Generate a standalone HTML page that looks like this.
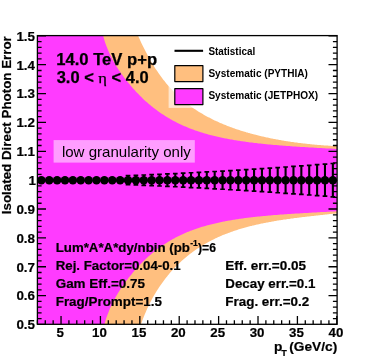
<!DOCTYPE html>
<html><head><meta charset="utf-8"><title>chart</title>
<style>html,body{margin:0;padding:0;background:#fff;}body{width:374px;height:361px;overflow:hidden;font-family:"Liberation Sans",sans-serif;}#w{will-change:transform;width:374px;height:361px;}</style></head>
<body>
<div id="w">
<svg width="374" height="361" viewBox="0 0 374 361" style="display:block" font-family="Liberation Sans, sans-serif">
<rect width="374" height="361" fill="#fff"/>
<defs><clipPath id="fr"><rect x="37.4" y="35.6" width="299.70" height="288.70"/></clipPath></defs>
<g clip-path="url(#fr)">
<path d="M32.4,384.4 L32.4,-24.1 L123.0,-24.1 L123.0,-1.8 L125.1,4.1 L127.3,9.8 L129.4,15.3 L131.6,20.6 L133.7,25.8 L135.9,30.8 L138.0,35.6 L138.9,37.6 L139.8,39.6 L140.7,41.6 L141.6,43.5 L142.6,45.4 L143.5,47.2 L144.4,49.1 L145.3,50.8 L146.2,52.6 L147.1,54.3 L148.0,56.0 L148.9,57.7 L149.9,59.3 L150.8,60.9 L151.7,62.4 L152.6,64.0 L153.5,65.5 L154.4,66.9 L155.3,68.4 L156.2,69.8 L157.2,71.1 L158.1,72.5 L159.0,73.8 L159.9,75.1 L160.8,76.3 L161.7,77.6 L162.6,78.8 L163.5,80.0 L164.5,81.1 L165.4,82.3 L166.3,83.4 L167.2,84.5 L168.1,85.5 L169.0,86.6 L169.9,87.6 L170.8,88.6 L171.8,89.6 L172.7,90.6 L173.6,91.5 L174.5,92.4 L175.4,93.4 L176.3,94.2 L177.2,95.1 L178.1,96.0 L179.1,96.8 L180.0,97.6 L180.9,98.5 L181.8,99.2 L182.7,100.0 L183.6,100.8 L184.5,101.5 L185.4,102.3 L186.4,103.0 L187.3,103.7 L188.2,104.4 L189.1,105.1 L190.0,105.8 L190.9,106.4 L191.8,107.1 L192.7,107.7 L193.7,108.4 L194.6,109.0 L195.5,109.6 L196.4,110.2 L197.3,110.8 L198.2,111.4 L199.1,111.9 L200.0,112.5 L201.0,113.0 L201.9,113.6 L202.8,114.1 L203.7,114.7 L204.6,115.2 L205.5,115.7 L206.4,116.2 L207.3,116.7 L208.2,117.2 L209.2,117.6 L210.1,118.1 L211.0,118.6 L211.9,119.0 L212.8,119.5 L213.7,119.9 L214.6,120.4 L215.5,120.8 L216.5,121.2 L217.4,121.6 L218.3,122.1 L219.2,122.5 L220.1,122.9 L221.0,123.3 L221.9,123.6 L222.8,124.0 L223.8,124.4 L224.7,124.8 L225.6,125.1 L226.5,125.5 L227.4,125.9 L228.3,126.2 L229.2,126.6 L230.1,126.9 L231.1,127.3 L232.0,127.6 L232.9,127.9 L233.8,128.2 L234.7,128.6 L235.6,128.9 L236.5,129.2 L237.4,129.5 L238.4,129.8 L239.3,130.1 L240.2,130.4 L241.1,130.7 L242.0,131.0 L242.9,131.3 L243.8,131.5 L244.7,131.8 L245.7,132.1 L246.6,132.4 L247.5,132.6 L248.4,132.9 L249.3,133.1 L250.2,133.4 L251.1,133.6 L252.0,133.9 L253.0,134.1 L253.9,134.4 L254.8,134.6 L255.7,134.8 L256.6,135.1 L257.5,135.3 L258.4,135.5 L259.3,135.8 L260.3,136.0 L261.2,136.2 L262.1,136.4 L263.0,136.6 L263.9,136.8 L264.8,137.0 L265.7,137.2 L266.6,137.4 L267.6,137.6 L268.5,137.8 L269.4,138.0 L270.3,138.2 L271.2,138.4 L272.1,138.6 L273.0,138.8 L273.9,138.9 L274.8,139.1 L275.8,139.3 L276.7,139.4 L277.6,139.6 L278.5,139.8 L279.4,139.9 L280.3,140.1 L281.2,140.3 L282.1,140.4 L283.1,140.6 L284.0,140.7 L284.9,140.9 L285.8,141.0 L286.7,141.2 L287.6,141.3 L288.5,141.5 L289.4,141.6 L290.4,141.7 L291.3,141.9 L292.2,142.0 L293.1,142.1 L294.0,142.3 L294.9,142.4 L295.8,142.5 L296.7,142.6 L297.7,142.7 L298.6,142.9 L299.5,143.0 L300.4,143.1 L301.3,143.2 L302.2,143.3 L303.1,143.4 L304.0,143.5 L305.0,143.6 L305.9,143.7 L306.8,143.8 L307.7,143.9 L308.6,144.0 L309.5,144.1 L310.4,144.2 L311.3,144.3 L312.3,144.4 L313.2,144.5 L314.1,144.6 L315.0,144.7 L315.9,144.7 L316.8,144.8 L317.7,144.9 L318.6,145.0 L319.6,145.0 L320.5,145.1 L321.4,145.2 L322.3,145.3 L323.2,145.3 L324.1,145.4 L325.0,145.5 L325.9,145.5 L326.9,145.6 L327.8,145.6 L328.7,145.7 L329.6,145.8 L330.5,145.8 L331.4,145.9 L332.3,145.9 L333.2,146.0 L334.2,146.0 L335.1,146.1 L336.0,146.1 L336.9,146.1 L337.8,146.2 L337.8,213.3 L336.9,213.4 L336.0,213.5 L335.1,213.6 L334.2,213.7 L333.3,213.7 L332.4,213.8 L331.5,213.9 L330.6,214.0 L329.7,214.1 L328.8,214.2 L327.9,214.3 L327.0,214.4 L326.1,214.5 L325.2,214.6 L324.3,214.7 L323.4,214.8 L322.5,214.9 L321.6,215.0 L320.7,215.1 L319.8,215.2 L318.9,215.3 L318.0,215.4 L317.1,215.5 L316.2,215.6 L315.3,215.7 L314.4,215.8 L313.5,215.9 L312.7,216.0 L311.8,216.1 L310.9,216.2 L310.0,216.3 L309.1,216.4 L308.2,216.5 L307.3,216.6 L306.4,216.7 L305.5,216.8 L304.6,216.9 L303.7,217.0 L302.8,217.1 L301.9,217.2 L301.0,217.3 L300.1,217.4 L299.2,217.5 L298.3,217.7 L297.4,217.8 L296.5,217.9 L295.6,218.0 L294.7,218.1 L293.8,218.2 L292.9,218.4 L292.0,218.5 L291.1,218.6 L290.2,218.7 L289.3,218.9 L288.4,219.0 L287.5,219.1 L286.6,219.2 L285.7,219.4 L284.8,219.5 L283.9,219.6 L283.0,219.8 L282.1,219.9 L281.2,220.0 L280.3,220.2 L279.4,220.3 L278.5,220.5 L277.6,220.6 L276.7,220.8 L275.8,220.9 L274.9,221.1 L274.0,221.2 L273.1,221.4 L272.2,221.5 L271.3,221.7 L270.4,221.9 L269.5,222.0 L268.6,222.2 L267.7,222.4 L266.8,222.5 L265.9,222.7 L265.0,222.9 L264.1,223.1 L263.3,223.2 L262.4,223.4 L261.5,223.6 L260.6,223.8 L259.7,224.0 L258.8,224.2 L257.9,224.4 L257.0,224.6 L256.1,224.8 L255.2,225.0 L254.3,225.2 L253.4,225.4 L252.5,225.6 L251.6,225.9 L250.7,226.1 L249.8,226.3 L248.9,226.5 L248.0,226.8 L247.1,227.0 L246.2,227.3 L245.3,227.5 L244.4,227.8 L243.5,228.0 L242.6,228.3 L241.7,228.5 L240.8,228.8 L239.9,229.1 L239.0,229.3 L238.1,229.6 L237.2,229.9 L236.3,230.2 L235.4,230.5 L234.5,230.8 L233.6,231.1 L232.7,231.4 L231.8,231.7 L230.9,232.0 L230.0,232.4 L229.1,232.7 L228.2,233.0 L227.3,233.4 L226.4,233.7 L225.5,234.1 L224.6,234.4 L223.7,234.8 L222.8,235.1 L221.9,235.5 L221.0,235.9 L220.1,236.3 L219.2,236.7 L218.3,237.1 L217.4,237.5 L216.5,237.9 L215.6,238.3 L214.8,238.8 L213.9,239.2 L213.0,239.7 L212.1,240.1 L211.2,240.6 L210.3,241.0 L209.4,241.5 L208.5,242.0 L207.6,242.5 L206.7,243.0 L205.8,243.5 L204.9,244.0 L204.0,244.5 L203.1,245.1 L202.2,245.6 L201.3,246.2 L200.4,246.7 L199.5,247.3 L198.6,247.9 L197.7,248.5 L196.8,249.1 L195.9,249.7 L195.0,250.3 L194.1,251.0 L193.2,251.6 L192.3,252.3 L191.4,253.0 L190.5,253.6 L189.6,254.3 L188.7,255.0 L187.8,255.8 L186.9,256.5 L186.0,257.2 L185.1,258.0 L184.2,258.8 L183.3,259.5 L182.4,260.3 L181.5,261.1 L180.6,262.0 L179.7,262.8 L178.8,263.7 L177.9,264.5 L177.0,265.4 L176.1,266.3 L175.2,267.2 L174.3,268.2 L173.4,269.1 L172.5,270.1 L171.6,271.1 L170.7,272.1 L169.8,273.1 L168.9,274.2 L168.0,275.3 L167.1,276.4 L166.2,277.5 L165.4,278.6 L164.5,279.8 L163.6,281.0 L162.7,282.2 L161.8,283.4 L160.9,284.7 L160.0,286.0 L159.1,287.3 L158.2,288.7 L157.3,290.1 L156.4,291.5 L155.5,293.0 L154.6,294.5 L153.7,296.0 L152.8,297.6 L151.9,299.3 L151.0,301.0 L150.1,302.7 L149.2,304.5 L148.3,306.4 L147.4,308.3 L146.5,310.3 L145.6,312.4 L144.7,314.6 L143.8,316.8 L142.9,319.1 L142.0,321.6 L141.1,324.1 L139.0,330.5 L136.8,337.2 L134.7,344.1 L132.5,351.4 L130.4,359.0 L128.2,366.9 L126.1,375.1 L126.1,384.4Z" fill="#ffbf7f"/>
<path d="M32.4,384.4 L32.4,-24.1 L88.0,-24.1 L88.0,-28.7 L90.1,-18.0 L92.3,-7.9 L94.4,1.7 L96.6,10.9 L98.7,19.5 L100.9,27.7 L103.0,35.5 L104.1,39.2 L105.1,42.5 L106.2,45.5 L107.3,48.3 L108.4,50.9 L109.4,53.3 L110.5,55.6 L111.6,57.7 L112.6,59.8 L113.7,61.7 L114.8,63.6 L115.9,65.4 L116.9,67.1 L118.0,68.8 L119.1,70.4 L120.2,72.0 L121.2,73.5 L122.3,75.0 L123.4,76.5 L124.4,77.9 L125.5,79.3 L126.6,80.7 L127.7,82.0 L128.7,83.3 L129.8,84.6 L130.9,85.9 L131.9,87.1 L133.0,88.4 L134.1,89.6 L135.2,90.7 L136.2,91.9 L137.3,93.0 L138.4,94.1 L139.5,95.2 L140.5,96.3 L141.6,97.3 L142.7,98.4 L143.7,99.4 L144.8,100.4 L145.9,101.4 L147.0,102.3 L148.0,103.2 L149.1,104.2 L150.2,105.1 L151.2,106.0 L152.3,106.8 L153.4,107.7 L154.5,108.5 L155.5,109.3 L156.6,110.1 L157.7,110.9 L158.8,111.7 L159.8,112.5 L160.9,113.2 L162.0,113.9 L163.0,114.6 L164.1,115.3 L165.2,116.0 L166.3,116.7 L167.3,117.3 L168.4,118.0 L169.5,118.6 L170.5,119.2 L171.6,119.8 L172.7,120.4 L173.8,121.0 L174.8,121.6 L175.9,122.1 L177.0,122.7 L178.1,123.2 L179.1,123.7 L180.2,124.2 L181.3,124.7 L182.3,125.2 L183.4,125.7 L184.5,126.2 L185.6,126.6 L186.6,127.1 L187.7,127.5 L188.8,128.0 L189.8,128.4 L190.9,128.8 L192.0,129.2 L193.1,129.6 L194.1,130.0 L195.2,130.4 L196.3,130.8 L197.3,131.1 L198.4,131.5 L199.5,131.8 L200.6,132.2 L201.6,132.5 L202.7,132.8 L203.8,133.2 L204.9,133.5 L205.9,133.8 L207.0,134.1 L208.1,134.4 L209.1,134.7 L210.2,135.0 L211.3,135.2 L212.4,135.5 L213.4,135.8 L214.5,136.0 L215.6,136.3 L216.6,136.6 L217.7,136.8 L218.8,137.0 L219.9,137.3 L220.9,137.5 L222.0,137.7 L223.1,138.0 L224.2,138.2 L225.2,138.4 L226.3,138.6 L227.4,138.8 L228.4,139.0 L229.5,139.2 L230.6,139.4 L231.7,139.6 L232.7,139.8 L233.8,140.0 L234.9,140.2 L235.9,140.3 L237.0,140.5 L238.1,140.7 L239.2,140.8 L240.2,141.0 L241.3,141.2 L242.4,141.3 L243.5,141.5 L244.5,141.6 L245.6,141.8 L246.7,141.9 L247.7,142.1 L248.8,142.2 L249.9,142.4 L251.0,142.5 L252.0,142.6 L253.1,142.8 L254.2,142.9 L255.2,143.0 L256.3,143.1 L257.4,143.3 L258.5,143.4 L259.5,143.5 L260.6,143.6 L261.7,143.7 L262.7,143.8 L263.8,143.9 L264.9,144.1 L266.0,144.2 L267.0,144.3 L268.1,144.4 L269.2,144.5 L270.3,144.6 L271.3,144.7 L272.4,144.8 L273.5,144.9 L274.5,145.0 L275.6,145.0 L276.7,145.1 L277.8,145.2 L278.8,145.3 L279.9,145.4 L281.0,145.5 L282.0,145.6 L283.1,145.7 L284.2,145.7 L285.3,145.8 L286.3,145.9 L287.4,146.0 L288.5,146.1 L289.6,146.1 L290.6,146.2 L291.7,146.3 L292.8,146.4 L293.8,146.4 L294.9,146.5 L296.0,146.6 L297.1,146.7 L298.1,146.7 L299.2,146.8 L300.3,146.9 L301.3,146.9 L302.4,147.0 L303.5,147.1 L304.6,147.1 L305.6,147.2 L306.7,147.3 L307.8,147.3 L308.9,147.4 L309.9,147.5 L311.0,147.5 L312.1,147.6 L313.1,147.6 L314.2,147.7 L315.3,147.8 L316.4,147.8 L317.4,147.9 L318.5,147.9 L319.6,148.0 L320.6,148.1 L321.7,148.1 L322.8,148.2 L323.9,148.2 L324.9,148.3 L326.0,148.4 L327.1,148.4 L328.2,148.5 L329.2,148.5 L330.3,148.6 L331.4,148.6 L332.4,148.7 L333.5,148.8 L334.6,148.8 L335.7,148.9 L336.7,148.9 L337.8,149.0 L337.8,211.2 L336.7,211.3 L335.7,211.3 L334.6,211.4 L333.5,211.4 L332.5,211.5 L331.4,211.6 L330.3,211.6 L329.3,211.7 L328.2,211.7 L327.1,211.8 L326.1,211.9 L325.0,211.9 L323.9,212.0 L322.9,212.0 L321.8,212.1 L320.7,212.1 L319.7,212.2 L318.6,212.3 L317.5,212.3 L316.5,212.4 L315.4,212.4 L314.3,212.5 L313.3,212.6 L312.2,212.6 L311.1,212.7 L310.1,212.7 L309.0,212.8 L307.9,212.9 L306.9,212.9 L305.8,213.0 L304.7,213.0 L303.7,213.1 L302.6,213.2 L301.5,213.2 L300.5,213.3 L299.4,213.4 L298.3,213.4 L297.2,213.5 L296.2,213.5 L295.1,213.6 L294.0,213.7 L293.0,213.8 L291.9,213.8 L290.8,213.9 L289.8,214.0 L288.7,214.0 L287.6,214.1 L286.6,214.2 L285.5,214.2 L284.4,214.3 L283.4,214.4 L282.3,214.5 L281.2,214.6 L280.2,214.6 L279.1,214.7 L278.0,214.8 L277.0,214.9 L275.9,215.0 L274.8,215.0 L273.8,215.1 L272.7,215.2 L271.6,215.3 L270.6,215.4 L269.5,215.5 L268.4,215.6 L267.4,215.7 L266.3,215.8 L265.2,215.9 L264.2,216.0 L263.1,216.1 L262.0,216.2 L261.0,216.3 L259.9,216.4 L258.8,216.5 L257.8,216.6 L256.7,216.7 L255.6,216.8 L254.6,216.9 L253.5,217.1 L252.4,217.2 L251.4,217.3 L250.3,217.4 L249.2,217.6 L248.2,217.7 L247.1,217.8 L246.0,218.0 L245.0,218.1 L243.9,218.2 L242.8,218.4 L241.8,218.5 L240.7,218.7 L239.6,218.8 L238.6,219.0 L237.5,219.2 L236.4,219.3 L235.4,219.5 L234.3,219.7 L233.2,219.8 L232.2,220.0 L231.1,220.2 L230.0,220.4 L229.0,220.6 L227.9,220.8 L226.8,220.9 L225.8,221.1 L224.7,221.4 L223.6,221.6 L222.6,221.8 L221.5,222.0 L220.4,222.2 L219.3,222.4 L218.3,222.7 L217.2,222.9 L216.1,223.2 L215.1,223.4 L214.0,223.7 L212.9,223.9 L211.9,224.2 L210.8,224.4 L209.7,224.7 L208.7,225.0 L207.6,225.3 L206.5,225.6 L205.5,225.9 L204.4,226.2 L203.3,226.5 L202.3,226.8 L201.2,227.1 L200.1,227.5 L199.1,227.8 L198.0,228.2 L196.9,228.5 L195.9,228.9 L194.8,229.3 L193.7,229.7 L192.7,230.0 L191.6,230.4 L190.5,230.8 L189.5,231.3 L188.4,231.7 L187.3,232.1 L186.3,232.6 L185.2,233.0 L184.1,233.5 L183.1,234.0 L182.0,234.5 L180.9,234.9 L179.9,235.5 L178.8,236.0 L177.7,236.5 L176.7,237.0 L175.6,237.6 L174.5,238.2 L173.5,238.7 L172.4,239.3 L171.3,239.9 L170.3,240.6 L169.2,241.2 L168.1,241.8 L167.1,242.5 L166.0,243.2 L164.9,243.9 L163.9,244.6 L162.8,245.3 L161.7,246.0 L160.7,246.8 L159.6,247.5 L158.5,248.3 L157.5,249.1 L156.4,249.9 L155.3,250.7 L154.3,251.6 L153.2,252.5 L152.1,253.3 L151.1,254.2 L150.0,255.2 L148.9,256.1 L147.9,257.1 L146.8,258.0 L145.7,259.0 L144.7,260.1 L143.6,261.1 L142.5,262.1 L141.4,263.2 L140.4,264.3 L139.3,265.4 L138.2,266.6 L137.2,267.7 L136.1,268.9 L135.0,270.1 L134.0,271.3 L132.9,272.6 L131.8,273.9 L130.8,275.2 L129.7,276.5 L128.6,277.8 L127.6,279.2 L126.5,280.6 L125.4,282.1 L124.4,283.5 L123.3,285.0 L122.2,286.6 L121.2,288.1 L120.1,289.8 L119.0,291.4 L118.0,293.1 L116.9,294.9 L115.8,296.8 L114.8,298.7 L113.7,300.7 L112.6,302.7 L111.6,304.9 L110.5,307.3 L109.4,309.7 L108.4,312.4 L107.3,315.2 L106.2,318.2 L105.2,321.6 L104.1,325.2 L102.0,333.2 L99.8,341.5 L97.7,350.3 L95.5,359.6 L93.4,369.4 L91.2,379.7 L89.1,390.6 L89.1,384.4Z" fill="#ff3bff"/>
</g>
<rect x="37.4" y="35.6" width="299.70" height="288.70" fill="none" stroke="#000" stroke-width="1.3"/>
<path d="M37.4,324.45h8.6M337.1,324.45h-8.6M37.4,318.68h4.2M337.1,318.68h-4.2M37.4,312.91h4.2M337.1,312.91h-4.2M37.4,307.13h4.2M337.1,307.13h-4.2M37.4,301.36h4.2M337.1,301.36h-4.2M37.4,295.59h8.6M337.1,295.59h-8.6M37.4,289.82h4.2M337.1,289.82h-4.2M37.4,284.05h4.2M337.1,284.05h-4.2M37.4,278.27h4.2M337.1,278.27h-4.2M37.4,272.50h4.2M337.1,272.50h-4.2M37.4,266.73h8.6M337.1,266.73h-8.6M37.4,260.96h4.2M337.1,260.96h-4.2M37.4,255.19h4.2M337.1,255.19h-4.2M37.4,249.41h4.2M337.1,249.41h-4.2M37.4,243.64h4.2M337.1,243.64h-4.2M37.4,237.87h8.6M337.1,237.87h-8.6M37.4,232.10h4.2M337.1,232.10h-4.2M37.4,226.33h4.2M337.1,226.33h-4.2M37.4,220.55h4.2M337.1,220.55h-4.2M37.4,214.78h4.2M337.1,214.78h-4.2M37.4,209.01h8.6M337.1,209.01h-8.6M37.4,203.24h4.2M337.1,203.24h-4.2M37.4,197.47h4.2M337.1,197.47h-4.2M37.4,191.69h4.2M337.1,191.69h-4.2M37.4,185.92h4.2M337.1,185.92h-4.2M37.4,180.15h8.6M337.1,180.15h-8.6M37.4,174.38h4.2M337.1,174.38h-4.2M37.4,168.61h4.2M337.1,168.61h-4.2M37.4,162.83h4.2M337.1,162.83h-4.2M37.4,157.06h4.2M337.1,157.06h-4.2M37.4,151.29h8.6M337.1,151.29h-8.6M37.4,145.52h4.2M337.1,145.52h-4.2M37.4,139.75h4.2M337.1,139.75h-4.2M37.4,133.97h4.2M337.1,133.97h-4.2M37.4,128.20h4.2M337.1,128.20h-4.2M37.4,122.43h8.6M337.1,122.43h-8.6M37.4,116.66h4.2M337.1,116.66h-4.2M37.4,110.89h4.2M337.1,110.89h-4.2M37.4,105.11h4.2M337.1,105.11h-4.2M37.4,99.34h4.2M337.1,99.34h-4.2M37.4,93.57h8.6M337.1,93.57h-8.6M37.4,87.80h4.2M337.1,87.80h-4.2M37.4,82.03h4.2M337.1,82.03h-4.2M37.4,76.25h4.2M337.1,76.25h-4.2M37.4,70.48h4.2M337.1,70.48h-4.2M37.4,64.71h8.6M337.1,64.71h-8.6M37.4,58.94h4.2M337.1,58.94h-4.2M37.4,53.17h4.2M337.1,53.17h-4.2M37.4,47.39h4.2M337.1,47.39h-4.2M37.4,41.62h4.2M337.1,41.62h-4.2M37.4,35.85h8.6M337.1,35.85h-8.6M37.40,324.3v-4.0M45.28,324.3v-4.0M53.16,324.3v-4.0M61.04,324.3v-8.2M68.92,324.3v-4.0M76.79,324.3v-4.0M84.67,324.3v-4.0M92.55,324.3v-4.0M100.43,324.3v-8.2M108.31,324.3v-4.0M116.19,324.3v-4.0M124.07,324.3v-4.0M131.95,324.3v-4.0M139.83,324.3v-8.2M147.71,324.3v-4.0M155.58,324.3v-4.0M163.46,324.3v-4.0M171.34,324.3v-4.0M179.22,324.3v-8.2M187.10,324.3v-4.0M194.98,324.3v-4.0M202.86,324.3v-4.0M210.74,324.3v-4.0M218.62,324.3v-8.2M226.49,324.3v-4.0M234.37,324.3v-4.0M242.25,324.3v-4.0M250.13,324.3v-4.0M258.01,324.3v-8.2M265.89,324.3v-4.0M273.77,324.3v-4.0M281.65,324.3v-4.0M289.53,324.3v-4.0M297.41,324.3v-8.2M305.28,324.3v-4.0M313.16,324.3v-4.0M321.04,324.3v-4.0M328.92,324.3v-4.0M336.80,324.3v-8.2" stroke="#000" stroke-width="1.3" fill="none"/>
<g font-weight="bold" font-size="13.4" text-anchor="end" stroke="#000" stroke-width="0.2">
<text x="35" y="329.2">0.5</text>
<text x="35" y="300.4">0.6</text>
<text x="35" y="271.5">0.7</text>
<text x="35" y="242.7">0.8</text>
<text x="35" y="213.8">0.9</text>
<text x="35.9" y="184.9">1</text>
<text x="35" y="156.1">1.1</text>
<text x="35" y="127.2">1.2</text>
<text x="35" y="98.4">1.3</text>
<text x="35" y="69.5">1.4</text>
<text x="35" y="40.6">1.5</text>
</g>
<g font-weight="bold" font-size="13.3" text-anchor="middle" stroke="#000" stroke-width="0.2">
<text x="60.1" y="336.7">5</text>
<text x="99.5" y="336.7">10</text>
<text x="138.9" y="336.7">15</text>
<text x="178.3" y="336.7">20</text>
<text x="217.7" y="336.7">25</text>
<text x="257.1" y="336.7">30</text>
<text x="296.5" y="336.7">35</text>
<text x="335.9" y="336.7">40</text>
</g>
<text transform="translate(10.5,36.2) rotate(-90)" text-anchor="end" font-weight="bold" font-size="12.6" stroke="#000" stroke-width="0.2" textLength="178" lengthAdjust="spacingAndGlyphs">Isolated Direct Photon Error</text>
<g font-weight="bold" stroke="#000" stroke-width="0.2"><text x="273.9" y="350.6" font-size="13.7">p</text><text x="281.3" y="356.1" font-size="9.2">T</text><text x="289.3" y="350.6" font-size="13.7">(GeV/c)</text></g>
<circle cx="41.34" cy="180.15" r="4.25" fill="#000"/>
<circle cx="49.22" cy="180.15" r="4.25" fill="#000"/>
<circle cx="57.10" cy="180.15" r="4.25" fill="#000"/>
<circle cx="64.98" cy="180.15" r="4.25" fill="#000"/>
<circle cx="72.86" cy="180.15" r="4.25" fill="#000"/>
<circle cx="80.73" cy="180.15" r="4.25" fill="#000"/>
<circle cx="88.61" cy="180.15" r="4.25" fill="#000"/>
<circle cx="96.49" cy="180.15" r="4.25" fill="#000"/>
<circle cx="104.37" cy="180.15" r="4.25" fill="#000"/>
<circle cx="112.25" cy="180.15" r="4.25" fill="#000"/>
<circle cx="120.13" cy="180.15" r="4.25" fill="#000"/>
<circle cx="128.01" cy="180.15" r="4.25" fill="#000"/>
<circle cx="135.89" cy="180.15" r="4.25" fill="#000"/>
<circle cx="143.77" cy="180.15" r="4.25" fill="#000"/>
<circle cx="151.64" cy="180.15" r="4.25" fill="#000"/>
<circle cx="159.52" cy="180.15" r="4.25" fill="#000"/>
<circle cx="167.40" cy="180.15" r="4.25" fill="#000"/>
<circle cx="175.28" cy="180.15" r="4.25" fill="#000"/>
<circle cx="183.16" cy="180.15" r="4.25" fill="#000"/>
<circle cx="191.04" cy="180.15" r="4.25" fill="#000"/>
<circle cx="198.92" cy="180.15" r="4.25" fill="#000"/>
<circle cx="206.80" cy="180.15" r="4.25" fill="#000"/>
<circle cx="214.68" cy="180.15" r="4.25" fill="#000"/>
<circle cx="222.56" cy="180.15" r="4.25" fill="#000"/>
<circle cx="230.43" cy="180.15" r="4.25" fill="#000"/>
<circle cx="238.31" cy="180.15" r="4.25" fill="#000"/>
<circle cx="246.19" cy="180.15" r="4.25" fill="#000"/>
<circle cx="254.07" cy="180.15" r="4.25" fill="#000"/>
<circle cx="261.95" cy="180.15" r="4.25" fill="#000"/>
<circle cx="269.83" cy="180.15" r="4.25" fill="#000"/>
<circle cx="277.71" cy="180.15" r="4.25" fill="#000"/>
<circle cx="285.59" cy="180.15" r="4.25" fill="#000"/>
<circle cx="293.47" cy="180.15" r="4.25" fill="#000"/>
<circle cx="301.34" cy="180.15" r="4.25" fill="#000"/>
<circle cx="309.22" cy="180.15" r="4.25" fill="#000"/>
<circle cx="317.10" cy="180.15" r="4.25" fill="#000"/>
<circle cx="324.98" cy="180.15" r="4.25" fill="#000"/>
<circle cx="332.86" cy="180.15" r="4.25" fill="#000"/>
<path d="M128.01,175.67V184.63M135.89,175.35V184.95M143.77,175.02V185.28M151.64,174.67V185.63M159.52,174.31V185.99M167.40,173.94V186.36M175.28,173.56V186.74M183.16,173.17V187.13M191.04,172.77V187.53M198.92,172.35V187.95M206.80,171.92V188.38M214.68,171.48V188.82M222.56,171.03V189.27M230.43,170.57V189.73M238.31,170.10V190.20M246.19,169.61V190.69M254.07,169.12V191.18M261.95,168.61V191.69M269.83,168.09V192.21M277.71,167.56V192.74M285.59,167.01V193.29M293.47,166.46V193.84M301.34,165.89V194.41M309.22,165.31V194.99M317.10,164.72V195.58M324.98,164.12V196.18M332.86,163.51V196.79" stroke="#000" stroke-width="2.1" fill="none"/>
<path d="M125.66,175.67h4.7M125.66,184.63h4.7M133.54,175.35h4.7M133.54,184.95h4.7M141.42,175.02h4.7M141.42,185.28h4.7M149.29,174.67h4.7M149.29,185.63h4.7M157.17,174.31h4.7M157.17,185.99h4.7M165.05,173.94h4.7M165.05,186.36h4.7M172.93,173.56h4.7M172.93,186.74h4.7M180.81,173.17h4.7M180.81,187.13h4.7M188.69,172.77h4.7M188.69,187.53h4.7M196.57,172.35h4.7M196.57,187.95h4.7M204.45,171.92h4.7M204.45,188.38h4.7M212.33,171.48h4.7M212.33,188.82h4.7M220.21,171.03h4.7M220.21,189.27h4.7M228.08,170.57h4.7M228.08,189.73h4.7M235.96,170.10h4.7M235.96,190.20h4.7M243.84,169.61h4.7M243.84,190.69h4.7M251.72,169.12h4.7M251.72,191.18h4.7M259.60,168.61h4.7M259.60,191.69h4.7M267.48,168.09h4.7M267.48,192.21h4.7M275.36,167.56h4.7M275.36,192.74h4.7M283.24,167.01h4.7M283.24,193.29h4.7M291.12,166.46h4.7M291.12,193.84h4.7M298.99,165.89h4.7M298.99,194.41h4.7M306.87,165.31h4.7M306.87,194.99h4.7M314.75,164.72h4.7M314.75,195.58h4.7M322.63,164.12h4.7M322.63,196.18h4.7M330.51,163.51h4.7M330.51,196.79h4.7" stroke="#000" stroke-width="1.7" fill="none"/>
<rect x="168.6" y="37" width="153" height="70.9" fill="#fff" fill-opacity="0.6"/>
<path d="M174.5,50.8H203.1" stroke="#000" stroke-width="2.1"/>
<rect x="174.8" y="65.6" width="28.1" height="16" fill="#ffbf7f" stroke="#000" stroke-width="1.2" stroke-linejoin="round"/>
<rect x="174.8" y="88.7" width="28.1" height="15.9" fill="#ff3bff" stroke="#000" stroke-width="1.2" stroke-linejoin="round"/>
<g font-weight="bold" font-size="10">
<text x="208.4" y="54.5" textLength="46.8" lengthAdjust="spacingAndGlyphs">Statistical</text>
<text x="208.4" y="76.9" textLength="99.5" lengthAdjust="spacingAndGlyphs">Systematic (PYTHIA)</text>
<text x="208.4" y="99" textLength="109.7" lengthAdjust="spacingAndGlyphs">Systematic (JETPHOX)</text>
</g>
<g font-weight="bold" font-size="15.6" stroke="#000" stroke-width="0.25">
<text x="56.2" y="64.9" textLength="100.9" lengthAdjust="spacingAndGlyphs">14.0 TeV p+p</text>
<text x="56.7" y="82.6" textLength="92" lengthAdjust="spacingAndGlyphs">3.0 &lt; <tspan font-family="Liberation Serif, serif" font-weight="normal">η</tspan> &lt; 4.0</text>
</g>
<rect x="53.6" y="140.1" width="141.2" height="22.5" fill="#fff" fill-opacity="0.5"/>
<text x="61.9" y="157.3" font-size="15" textLength="129" lengthAdjust="spacingAndGlyphs">low granularity only</text>
<g font-weight="bold" stroke="#000" stroke-width="0.2">
<text x="55.7" y="251.8" font-size="12.4" textLength="134.2" lengthAdjust="spacingAndGlyphs">Lum*A*A*dy/nbin (pb</text>
<text x="190.2" y="246.2" font-size="8.8" textLength="7.6" lengthAdjust="spacingAndGlyphs">-1</text>
<text x="198.0" y="251.8" font-size="12.4" textLength="18.0" lengthAdjust="spacingAndGlyphs">)=6</text>
<text x="55.7" y="269.5" font-size="12.4" textLength="125.0" lengthAdjust="spacingAndGlyphs">Rej. Factor=0.04-0.1</text>
<text x="55.7" y="287.7" font-size="12.4" textLength="89.3" lengthAdjust="spacingAndGlyphs">Gam Eff.=0.75</text>
<text x="55.7" y="305.9" font-size="12.4" textLength="106.2" lengthAdjust="spacingAndGlyphs">Frag/Prompt=1.5</text>
<text x="225.35" y="270.2" font-size="12.4" textLength="80.7" lengthAdjust="spacingAndGlyphs">Eff. err.=0.05</text>
<text x="225.35" y="288.2" font-size="12.4" textLength="90.0" lengthAdjust="spacingAndGlyphs">Decay err.=0.1</text>
<text x="225.35" y="306.0" font-size="12.4" textLength="83.9" lengthAdjust="spacingAndGlyphs">Frag. err.=0.2</text>
</g>
</svg>
</div>
</body></html>
